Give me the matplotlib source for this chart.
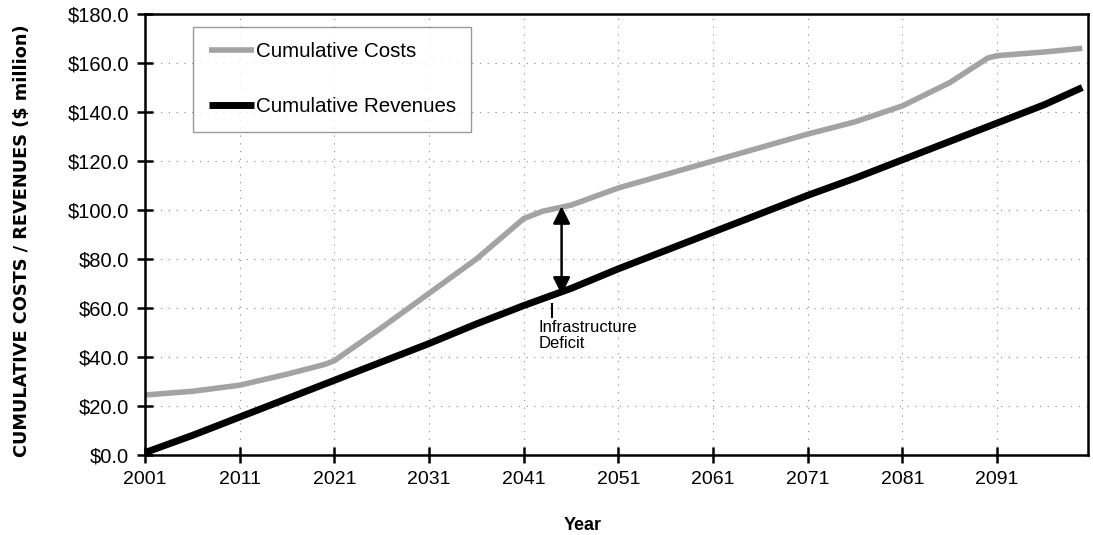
import matplotlib
matplotlib.use("Agg")
import matplotlib.pyplot as plt
from matplotlib.ticker import FuncFormatter

plt.rcParams['font.family'] = ['Liberation Sans', 'DejaVu Sans']

# values ($ million)
cost_years = [2001, 2006, 2011, 2016, 2020, 2021, 2026, 2031, 2036, 2041, 2043, 2046,
              2051, 2056, 2061, 2066, 2071, 2076, 2081, 2086, 2090, 2091, 2096, 2100]
cost_values = [24.5, 26.0, 28.5, 33.0, 37.0, 38.5, 52.0, 66.0, 80.0, 96.5, 99.5, 102.0,
               109.0, 114.5, 120.0, 125.5, 131.0, 136.0, 142.5, 152.0, 162.0, 163.0, 164.5, 166.0]

rev_years = [2001, 2006, 2011, 2016, 2021, 2026, 2031, 2036, 2041, 2046, 2051,
             2056, 2061, 2066, 2071, 2076, 2081, 2086, 2091, 2096, 2100]
rev_values = [1.0, 8.0, 15.5, 23.0, 30.5, 38.0, 45.5, 53.5, 61.0, 68.0, 76.0,
              83.5, 91.0, 98.5, 106.0, 113.0, 120.5, 128.0, 135.5, 143.0, 150.0]

x_ticks = [2001, 2011, 2021, 2031, 2041, 2051, 2061, 2071, 2081, 2091]
y_ticks = [0, 20, 40, 60, 80, 100, 120, 140, 160, 180]

fig = plt.figure(figsize=(10.93, 5.35), dpi=100)
ax = fig.add_axes([0.1327, 0.1495, 0.8627, 0.8243])

ax.plot(cost_years, cost_values, color='#a3a3a3', lw=4, label='Cumulative Costs',
        solid_capstyle='butt')
ax.plot(rev_years, rev_values, color='black', lw=5, label='Cumulative Revenues',
        solid_capstyle='butt')

# infrastructure deficit arrow
ax.annotate('', xy=(2045, 101.5), xytext=(2045, 65.5),
            arrowprops=dict(arrowstyle='<|-|>', color='black', lw=1.8,
                            mutation_scale=26, shrinkA=0, shrinkB=0))
ax.plot([2044, 2044], [56.5, 61.5], color='black', lw=1.5)
ax.text(2042.6, 55, 'Infrastructure\nDeficit', fontsize=12, va='top', ha='left',
        linespacing=1.05)

ax.set_xlim(2001, 2100.6)
ax.set_ylim(0, 180)
ax.set_xticks(x_ticks)
ax.set_yticks(y_ticks)
ax.yaxis.set_major_formatter(FuncFormatter(lambda v, p: '${:.1f}'.format(v)))
ax.tick_params(direction='inout', length=11, width=1.8, labelsize=14, pad=6)
ax.tick_params(axis='y', labelsize=14.5)
ax.grid(True, color='#8a8a8a', lw=0.8, linestyle=(0, (1, 6)))

for s in ax.spines.values():
    s.set_linewidth(1.8)

ax.set_xlabel('Year', fontsize=13, fontweight='bold')
ax.xaxis.set_label_coords(0.4645, -0.1406)
ax.set_ylabel('CUMULATIVE COSTS / REVENUES ($ million)', fontsize=12.8,
              fontweight='bold', family=['DejaVu Sans'])
ax.yaxis.set_label_coords(-0.121, 0.485)

leg = ax.legend(loc='upper left', bbox_to_anchor=(0.051, 0.9705), fontsize=14.8,
                frameon=True, fancybox=False, edgecolor='#808080',
                handlelength=2.2, handletextpad=0.1, labelspacing=1.75,
                borderpad=0.75, borderaxespad=0)
leg.get_frame().set_linewidth(1.0)

fig.savefig('out.png', dpi=100)
